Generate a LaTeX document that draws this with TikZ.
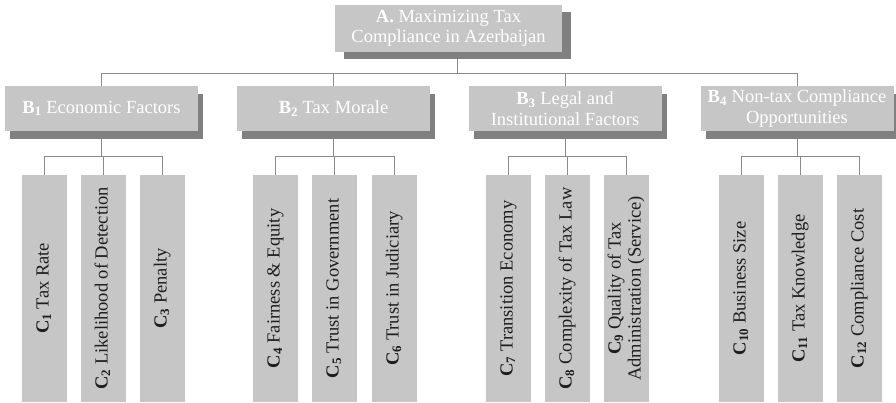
\documentclass[tikz,border=0pt]{standalone}
\usepackage{fontspec}
\setmainfont{Liberation Serif}
\definecolor{BoxGray}{HTML}{C6C6C6}
\definecolor{ShadowGray}{HTML}{808080}
\definecolor{LinkGray}{HTML}{8A8A8A}
\definecolor{LabelDark}{HTML}{1E1E1E}
\usetikzlibrary{positioning,shadows,backgrounds}
\tikzset{
  goalBox/.style={fill=BoxGray, text=white, align=center, minimum width=227pt, minimum height=47pt, inner sep=0pt, font=\fontsize{18.5}{20.5}\selectfont, drop shadow={shadow xshift=9pt, shadow yshift=-7pt, fill=ShadowGray, opacity=1}},
  factorBox/.style={fill=BoxGray, text=white, align=center, minimum width=193pt, minimum height=45pt, inner sep=0pt, font=\fontsize{18.5}{20.5}\selectfont, drop shadow={shadow xshift=5pt, shadow yshift=-8pt, fill=ShadowGray, opacity=1}},
  criterionBox/.style={fill=BoxGray, text=LabelDark, minimum width=45pt, minimum height=227pt, inner sep=0pt, font=\fontsize{18.5}{20}\selectfont},
  linkEdge/.style={draw=LinkGray, line width=0.9pt}
}
\newcommand{\critLabel}[1]{\rotatebox{90}{\begin{tabular}{@{}c@{}}#1\end{tabular}}}

\begin{document}
\begin{tikzpicture}[x=1pt,y=1pt]
\useasboundingbox (0,0) rectangle (896,-402);

% goal
\node[goalBox] (goal) at (448.5,-28.5) {\textbf{A.} Maximizing Tax\\Compliance in Azerbaijan};

% factors
\node[factorBox] (eco)    at (101.5,-108.5) {\textbf{B\textsubscript{1}} Economic Factors};
\node[factorBox] (morale) at (333.5,-108.5) {\textbf{B\textsubscript{2}} Tax Morale};
\node[factorBox] (legal)  at (565,-108.5)   {\textbf{B\textsubscript{3}} Legal and\\Institutional Factors};
\node[factorBox] (nontax) at (797,-108.5)   {\textbf{B\textsubscript{4}} Non-tax Compliance\\Opportunities};

% criteria
\foreach \n/\cx/\txt in {
  1/44.5/{\textbf{C\textsubscript{1}} Tax Rate},
  2/103.5/{\textbf{C\textsubscript{2}} Likelihood of Detection},
  3/162.5/{\textbf{C\textsubscript{3}} Penalty},
  4/275.5/{\textbf{C\textsubscript{4}} Fairness \& Equity},
  5/334.5/{\textbf{C\textsubscript{5}} Trust in Government},
  6/394.5/{\textbf{C\textsubscript{6}} Trust in Judiciary},
  7/508.5/{\textbf{C\textsubscript{7}} Transition Economy},
  8/567.5/{\textbf{C\textsubscript{8}} Complexity of Tax Law},
  9/626.5/{\textbf{C\textsubscript{9}} Quality of Tax\\Administration (Service)},
  10/741.5/{\textbf{C\textsubscript{10}} Business Size},
  11/800.5/{\textbf{C\textsubscript{11}} Tax Knowledge},
  12/859.5/{\textbf{C\textsubscript{12}} Compliance Cost}}
  \node[criterionBox] (c\n) at (\cx,-288.5) {\critLabel{\txt}};

% links
\begin{scope}[on background layer]
\draw[linkEdge] ([xshift=9pt]goal.south) -- ++(0,-21) coordinate (topJoin);
\foreach \b in {eco,morale,legal,nontax}
  \draw[linkEdge] (topJoin) -| (\b.north);
\foreach \b/\first/\last in {eco/1/3,morale/4/6,legal/7/9,nontax/10/12}{
  \draw[linkEdge] (\b.south) -- ++(0,-25) coordinate (\b Join);
  \foreach \k in {\first,...,\last}
    \draw[linkEdge] (\b Join) -| (c\k.north);
}
\end{scope}
\end{tikzpicture}
\end{document}
